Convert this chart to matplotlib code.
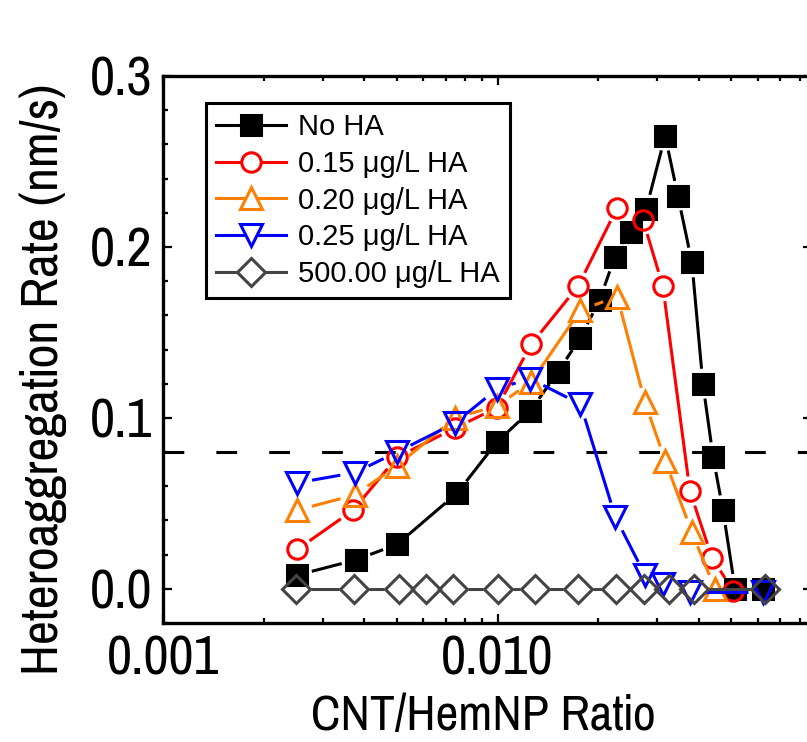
#! usr/bin/env python3

import numpy as np
import matplotlib
matplotlib.use('Agg')
import matplotlib.pyplot as plt
from matplotlib.collections import LineCollection
from matplotlib.lines import Line2D
from matplotlib.ticker import LogLocator, MultipleLocator, FixedLocator, FuncFormatter, NullFormatter

#   narrow sans for the axis texts, like the squeezed arial of the original
plt.rcParams['font.family'] = ['Pragati Narrow', 'Liberation Sans', 'DejaVu Sans']

#   values (CNT/HemNP ratio vs rate in nm/s)
no_ha_x = [0.00252, 0.00378, 0.00501, 0.00757, 0.00997, 0.01253, 0.01517, 0.0177, 0.0202, 0.0224,
           0.0250, 0.0278, 0.0317, 0.0346, 0.0381, 0.0411, 0.0441, 0.0472, 0.0513, 0.0623]
no_ha_y = [0.008, 0.017, 0.026, 0.056, 0.086, 0.104, 0.127, 0.147, 0.169, 0.194,
           0.209, 0.222, 0.265, 0.230, 0.191, 0.120, 0.077, 0.046, 0.0, 0.0]

ha015_x = [0.00252, 0.0037, 0.00501, 0.00746, 0.00997, 0.0126, 0.0174, 0.0228, 0.0272, 0.0312, 0.0376, 0.0438, 0.0506]
ha015_y = [0.023, 0.046, 0.077, 0.094, 0.106, 0.143, 0.177, 0.223, 0.216, 0.177, 0.057, 0.018, -0.001]

ha020_x = [0.00252, 0.00375, 0.00501, 0.00746, 0.00997, 0.0126, 0.0177, 0.0228, 0.0276, 0.0317, 0.0381, 0.0447]
ha020_y = [0.046, 0.055, 0.072, 0.100, 0.107, 0.121, 0.163, 0.171, 0.109, 0.075, 0.033, 0.0]

ha025_x = [0.00252, 0.00375, 0.00501, 0.00746, 0.00997, 0.0125, 0.0177, 0.0225, 0.0276, 0.0312, 0.0376, 0.0622]
ha025_y = [0.062, 0.068, 0.080, 0.097, 0.117, 0.123, 0.108, 0.042, 0.008, 0.003, -0.002, -0.002]

ha500_x = [0.0025, 0.00372, 0.00508, 0.00611, 0.00736, 0.01003, 0.01294, 0.01741, 0.02261, 0.02742,
           0.03256, 0.03867, 0.06305]
ha500_y = [0.0] * len(ha500_x)

threshold = 0.08

series = [
    ('No HA', no_ha_x, no_ha_y, 'black', 's', 'black'),
    ('0.15 μg/L HA', ha015_x, ha015_y, '#ff0000', 'o', 'none'),
    ('0.20 μg/L HA', ha020_x, ha020_y, '#ff8000', '^', 'none'),
    ('0.25 μg/L HA', ha025_x, ha025_y, '#0000ff', 'v', 'none'),
    ('500.00 μg/L HA', ha500_x, ha500_y, '#444444', 'D', 'none'),
]
marker_sizes = {'s': 14, 'o': 14, '^': 16, 'v': 16, 'D': 14}


#   draw connecting lines with a small gap around every point (origin style)
def gapped_line(ax, xs, ys, gap, **kw):
    pts = ax.transData.transform(np.column_stack([xs, ys]))
    inv = ax.transData.inverted()
    segs = []
    for p0, p1 in zip(pts[:-1], pts[1:]):
        d = p1 - p0
        length = np.hypot(d[0], d[1])
        if length <= 2 * gap:
            continue
        u = d / length
        segs.append(inv.transform(np.array([p0 + u * gap, p1 - u * gap])))
    ax.add_collection(LineCollection(segs, **kw))


fig = plt.figure(figsize=(8.07, 7.42), dpi=100)
ax = fig.add_axes([163 / 807, 119 / 742, 649 / 807, 547 / 742])
ax.set_xscale('log')
ax.set_xlim(0.001, 0.0871)
ax.set_ylim(-0.02, 0.3)

ax.axhline(threshold, color='black', lw=2.2, dashes=(6.8, 10.5), zorder=1)

for i, (name, xs, ys, col, mk, mfc) in enumerate(series):
    gapped_line(ax, xs, ys, 15, colors=col, linewidths=2.2, zorder=2 + i)
    ax.plot(xs, ys, ls='none', marker=mk, ms=marker_sizes[mk], mfc=mfc, mec=col, mew=2.2,
            zorder=2.5 + i)

#   axes styling
for sp in ax.spines.values():
    sp.set_linewidth(2.4)
ax.xaxis.set_major_locator(FixedLocator([0.001, 0.01]))
ax.xaxis.set_major_formatter(FuncFormatter(lambda v, p: '{:.3f}'.format(v)))
ax.xaxis.set_minor_locator(LogLocator(base=10, subs=np.arange(2, 10), numticks=20))
ax.xaxis.set_minor_formatter(NullFormatter())
ax.yaxis.set_major_locator(MultipleLocator(0.1))
ax.yaxis.set_minor_locator(MultipleLocator(0.02))
ax.yaxis.set_major_formatter(FuncFormatter(lambda v, p: '{:.1f}'.format(v)))
ax.tick_params(which='both', direction='in', top=True, right=True, width=1.6, labelsize=43)
ax.tick_params(which='major', length=6.5, pad=8)
ax.tick_params(which='minor', length=3.6)

ax.set_xlabel('CNT/HemNP Ratio', fontsize=39)
ax.set_ylabel('Heteroaggregation Rate (nm/s)', fontsize=41)
ax.xaxis.set_label_coords(0.493, -0.13)
ax.yaxis.set_label_coords(-0.148, 0.445)

#   legend with white faces so the handle line does not cross open markers
handles = []
for name, xs, ys, col, mk, mfc in series:
    handles.append(Line2D([], [], color=col, lw=2.2, marker=mk, ms=marker_sizes[mk],
                          mfc=col if mfc != 'none' else 'white', mec=col, mew=2.2))
leg = ax.legend(handles, [s[0] for s in series], loc='upper left', bbox_to_anchor=(0.066, 0.951),
                borderaxespad=0, frameon=True, fancybox=False, framealpha=1, edgecolor='black',
                handlelength=2.4, handletextpad=0.4, borderpad=0.35, labelspacing=0.3,
                prop={'family': ['Liberation Sans', 'DejaVu Sans'], 'size': 21})
leg.get_frame().set_linewidth(2.2)

fig.savefig('out.png', dpi=100)
